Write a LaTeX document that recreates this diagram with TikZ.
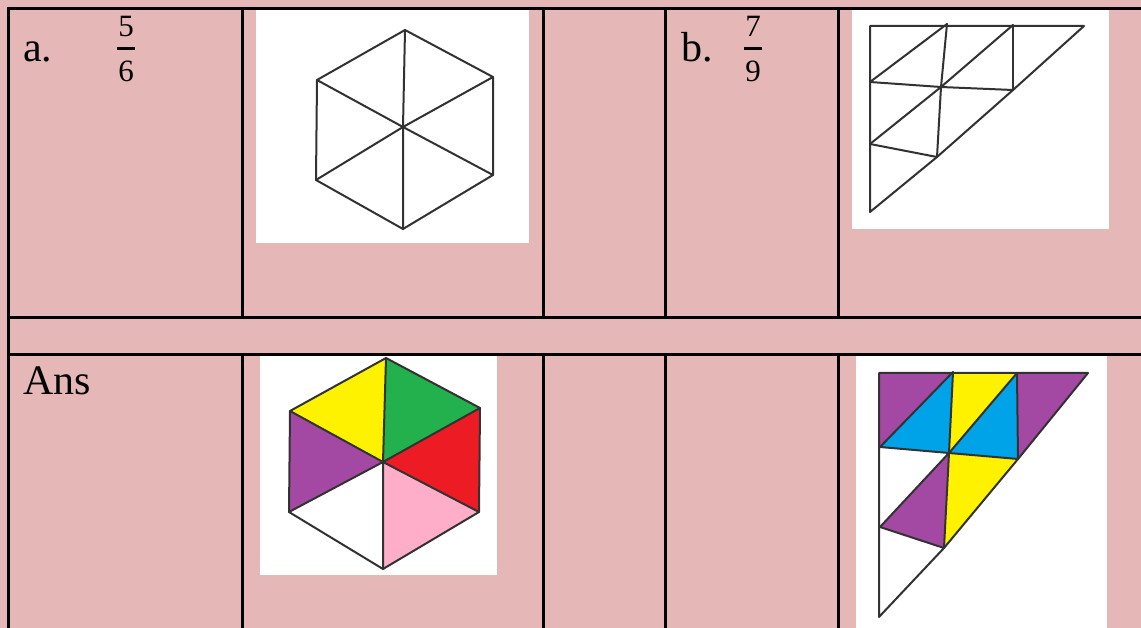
\documentclass[tikz,border=0pt]{standalone}
\usepackage{fontspec}
\setmainfont{Liberation Serif}
\definecolor{bgpink}{RGB}{229,184,183}
\definecolor{cyel}{RGB}{255,242,0}
\definecolor{cgreen}{RGB}{34,177,76}
\definecolor{cred}{RGB}{237,28,36}
\definecolor{cpink}{RGB}{255,174,201}
\definecolor{cpurple}{RGB}{163,73,164}
\definecolor{cblue}{RGB}{0,162,232}
\definecolor{lineclr}{RGB}{50,50,50}
\tikzset{
  grid/.style={line width=3pt,black},
  fig/.style={line width=2pt,lineclr,line join=round,line cap=round},
  picbox/.style={fill=white,draw=none},
  bigtxt/.style={inner sep=0pt,font=\fontsize{42}{50}\selectfont},
  fractxt/.style={inner sep=0pt,font=\fontsize{31}{36}\selectfont},
  barline/.style={line width=2.8pt,black}
}
\begin{document}
\begin{tikzpicture}[x=1pt,y=-1pt]
\useasboundingbox (0,0) rectangle (1141,628);
\fill[bgpink] (0,0) rectangle (1141,628);

% white picture boxes
\fill[picbox] (256,9) rectangle (529,243);
\fill[picbox] (852,9) rectangle (1109,229);
\fill[picbox] (260,355) rectangle (497,575);
\fill[picbox] (856,355) rectangle (1107,628);

% table grid
\draw[grid] (8.5,628) -- (8.5,9) -- (1141,9);
\foreach \x in {242,543,665,838}{
  \draw[grid] (\x,9) -- (\x,318);
  \draw[grid] (\x,355) -- (\x,628);
}
\draw[grid] (8.5,318) -- (1141,318);
\draw[grid] (8.5,355) -- (1141,355);

% texts
\node[bigtxt,anchor=base west] (la) at (23,62) {a.};
\node[fractxt,anchor=base] (na) at (126,37) {5};
\node[fractxt,anchor=base] (da) at (126,82) {6};
\draw[barline] (117,48.5) -- (135,48.5);
\node[bigtxt,anchor=base west] (lb) at (681,62) {b.};
\node[fractxt,anchor=base] (nb) at (753,37) {7};
\node[fractxt,anchor=base] (db) at (753,82) {9};
\draw[barline] (744,48.5) -- (762,48.5);
\node[bigtxt,anchor=base west] (ans) at (23,395) {Ans};

% top hexagon
\coordinate (hT) at (405,30);
\coordinate (hUR) at (493,77);
\coordinate (hLR) at (493,175);
\coordinate (hB) at (403,229);
\coordinate (hLL) at (316,180);
\coordinate (hUL) at (317,80);
\coordinate (hC) at (403,127);
\draw[fig] (hT) -- (hUR) -- (hLR) -- (hB) -- (hLL) -- (hUL) -- cycle;
\draw[fig] (hT) -- (hC) -- (hB);
\draw[fig] (hUL) -- (hC) -- (hLR);
\draw[fig] (hUR) -- (hC) -- (hLL);

% answer hexagon
\coordinate (gT) at (386,358);
\coordinate (gUR) at (480,408);
\coordinate (gLR) at (479,512);
\coordinate (gB) at (383,569);
\coordinate (gLL) at (289,512);
\coordinate (gUL) at (290,411);
\coordinate (gC) at (383,462);
\fill[cyel] (gT) -- (gUL) -- (gC) -- cycle;
\fill[cgreen] (gT) -- (gUR) -- (gC) -- cycle;
\fill[cred] (gUR) -- (gLR) -- (gC) -- cycle;
\fill[cpink] (gLR) -- (gB) -- (gC) -- cycle;
\fill[cpurple] (gLL) -- (gUL) -- (gC) -- cycle;
\draw[fig] (gT) -- (gUR) -- (gLR) -- (gB) -- (gLL) -- (gUL) -- cycle;
\draw[fig] (gT) -- (gC) -- (gB);
\draw[fig] (gUL) -- (gC) -- (gLR);
\draw[fig] (gUR) -- (gC) -- (gLL);

% top triangle
\coordinate (tA) at (870,26);
\coordinate (tP1) at (947,24);
\coordinate (tP2) at (1013,25);
\coordinate (tTip) at (1084,26);
\coordinate (tL1) at (870,82);
\coordinate (tM) at (941,87);
\coordinate (tR) at (1013,90);
\coordinate (tL2) at (870,144);
\coordinate (tQ) at (937,157);
\coordinate (tBt) at (870,212);
\draw[fig] (tA) -- (tTip) -- (tR) -- (tQ) -- (tBt) -- cycle;
\draw[fig] (tP1) -- (tL1);
\draw[fig] (tP2) -- (tM) -- (tL2);
\draw[fig] (tP1) -- (tM) -- (tQ);
\draw[fig] (tP2) -- (tR);
\draw[fig] (tL1) -- (tM) -- (tR);
\draw[fig] (tL2) -- (tQ);

% answer triangle
\coordinate (sA) at (879,373);
\coordinate (sP1) at (953,372);
\coordinate (sP2) at (1017,373);
\coordinate (sTip) at (1088,373);
\coordinate (sL1) at (880,447);
\coordinate (sM) at (949,453);
\coordinate (sR) at (1018,459);
\coordinate (sL2) at (880,527);
\coordinate (sQ) at (944,548);
\coordinate (sBt) at (879,617);
\fill[cpurple] (sA) -- (sP1) -- (sL1) -- cycle;
\fill[cblue] (sP1) -- (sM) -- (sL1) -- cycle;
\fill[cyel] (sP1) -- (sP2) -- (sM) -- cycle;
\fill[cblue] (sP2) -- (sM) -- (sR) -- cycle;
\fill[cpurple] (sP2) -- (sTip) -- (sR) -- cycle;
\fill[cpurple] (sM) -- (sL2) -- (sQ) -- cycle;
\fill[cyel] (sM) -- (sR) -- (sQ) -- cycle;
\draw[fig] (sA) -- (sTip) -- (sR) -- (sQ) -- (sBt) -- cycle;
\draw[fig] (sP1) -- (sL1);
\draw[fig] (sP2) -- (sM) -- (sL2);
\draw[fig] (sP1) -- (sM) -- (sQ);
\draw[fig] (sP2) -- (sR);
\draw[fig] (sL1) -- (sM) -- (sR);
\draw[fig] (sL2) -- (sQ);
\end{tikzpicture}
\end{document}
